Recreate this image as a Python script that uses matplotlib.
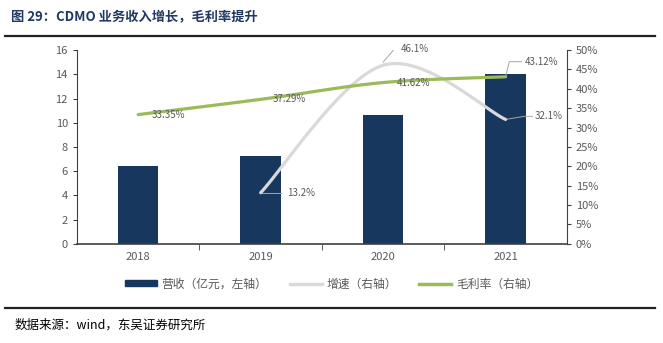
import matplotlib
matplotlib.use("Agg")
import matplotlib.pyplot as plt
import numpy as np
from matplotlib.lines import Line2D
from matplotlib.patches import Patch

plt.rcParams['font.family'] = ['Noto Sans CJK SC', 'DejaVu Sans']

# 数据
years = ['2018', '2019', '2020', '2021']
revenue = [6.4, 7.25, 10.6, 14.0]          # 亿元
growth_years = [1, 2, 3]
growth = [13.2, 46.1, 32.1]                 # %
margin = [33.35, 37.29, 41.62, 43.12]       # %

bar_color = '#17375e'
grey_color = '#d9d9d9'
green_color = '#9bbb59'
text_color = '#595959'


def smooth(xs, ys, n=40):
    # 贝塞尔平滑（与 Excel 平滑线类似）
    xs = np.asarray(xs, float)
    ys = np.asarray(ys, float)
    px = np.concatenate([[xs[0]], xs, [xs[-1]]])
    py = np.concatenate([[ys[0]], ys, [ys[-1]]])
    ox, oy = [], []
    t = np.linspace(0, 1, n)
    for i in range(1, len(px) - 2):
        x0, y0 = px[i], py[i]
        x3, y3 = px[i + 1], py[i + 1]
        x1 = x0 + (px[i + 1] - px[i - 1]) / 6
        y1 = y0 + (py[i + 1] - py[i - 1]) / 6
        x2 = x3 - (px[i + 2] - px[i]) / 6
        y2 = y3 - (py[i + 2] - py[i]) / 6
        bx = (1 - t) ** 3 * x0 + 3 * (1 - t) ** 2 * t * x1 + 3 * (1 - t) * t ** 2 * x2 + t ** 3 * x3
        by = (1 - t) ** 3 * y0 + 3 * (1 - t) ** 2 * t * y1 + 3 * (1 - t) * t ** 2 * y2 + t ** 3 * y3
        ox.extend(bx)
        oy.extend(by)
    return np.array(ox), np.array(oy)


fig = plt.figure(figsize=(6.63, 3.43), dpi=100)
ax = fig.add_axes([0.116, 0.289, 0.739, 0.565])
x = np.arange(len(years))
ax.bar(x, revenue, width=0.33, color=bar_color, zorder=2)
ax.set_xlim(-0.5, 3.5)
ax.set_ylim(0, 16)
ax.set_yticks(range(0, 17, 2))
ax.set_xticks(x)
ax.set_xticklabels(years)
ax.set_xticks([0.5, 1.5, 2.5], minor=True)
ax.tick_params(axis='x', which='major', length=0, pad=6, labelsize=8, labelcolor=text_color)
ax.tick_params(axis='x', which='minor', length=4, direction='out', color='#404040')
ax.tick_params(axis='y', length=3, labelsize=8, labelcolor=text_color, color='#404040')
for s in ['top', 'right']:
    ax.spines[s].set_visible(False)
ax.spines['left'].set_color('#404040')
ax.spines['bottom'].set_color('#404040')
ax.spines['bottom'].set_linewidth(1.2)

ax2 = ax.twinx()
ax2.set_ylim(0, 50)
ax2.set_yticks(range(0, 51, 5))
ax2.set_yticklabels([f'{v}%' for v in range(0, 51, 5)])
ax2.tick_params(axis='y', length=3, labelsize=8, labelcolor=text_color, color='#404040')
for s in ['top', 'left', 'bottom']:
    ax2.spines[s].set_visible(False)
ax2.spines['right'].set_color('#404040')

gx, gy = smooth(growth_years, growth)
ax2.plot(gx, gy, color=grey_color, lw=2.3, solid_capstyle='round', zorder=3)
mx, my = smooth(x, margin)
ax2.plot(mx, my, color=green_color, lw=2.3, solid_capstyle='round', zorder=4)

lab = dict(fontsize=7, color=text_color, zorder=5)
# 毛利率标签
ax2.text(0.11, margin[0], f'{margin[0]:.2f}%', va='center', ha='left', **lab)
ax2.text(1.1, margin[1], f'{margin[1]:.2f}%', va='center', ha='left', **lab)
ax2.text(2.11, margin[2], f'{margin[2]:.2f}%', va='center', ha='left', **lab)
ax2.plot([3, 3.03, 3.13], [margin[3], 47.0, 47.0], color='#a6a6a6', lw=0.7)
ax2.text(3.16, 47.0, f'{margin[3]:.2f}%', va='center', ha='left', **lab)
# 增速标签
ax2.plot([1, 1.17], [growth[0], growth[0]], color='#a6a6a6', lw=0.7)
ax2.text(1.22, growth[0], f'{growth[0]}%', va='center', ha='left', **lab)
ax2.plot([2.0, 2.09, 2.12], [46.9, 50.2, 50.2], color='#a6a6a6', lw=0.7)
ax2.text(2.14, 50.2, f'{growth[1]}%', va='center', ha='left', **lab)
ax2.plot([3, 3.15, 3.22], [growth[2], 32.9, 32.9], color='#a6a6a6', lw=0.7)
ax2.text(3.24, 32.9, f'{growth[2]}%', va='center', ha='left', **lab)

handles = [Patch(color=bar_color),
           Line2D([], [], color=grey_color, lw=2.5),
           Line2D([], [], color=green_color, lw=2.5)]
labels = ['营收（亿元，左轴）', '增速（右轴）', '毛利率（右轴）']
fig.legend(handles, labels, loc='center', bbox_to_anchor=(0.5, 0.172), ncol=3,
           frameon=False, fontsize=8.5, handlelength=2.7, handleheight=0.45,
           columnspacing=1.9, handletextpad=0.4, labelcolor=text_color)

# 标题与来源
fig.text(0.017, 0.95, '图 29：CDMO 业务收入增长，毛利率提升', fontsize=9.5,
         fontweight='bold', color='#1f3864', va='center', ha='left')
fig.add_artist(Line2D([0.008, 0.988], [0.895, 0.895], color='#222222', lw=1.6))
fig.add_artist(Line2D([0.008, 0.988], [0.102, 0.102], color='#222222', lw=1.6))
fig.text(0.022, 0.052, '数据来源：wind，东吴证券研究所', fontsize=9,
         color='#000000', va='center', ha='left')

fig.savefig('out.png', dpi=100)
